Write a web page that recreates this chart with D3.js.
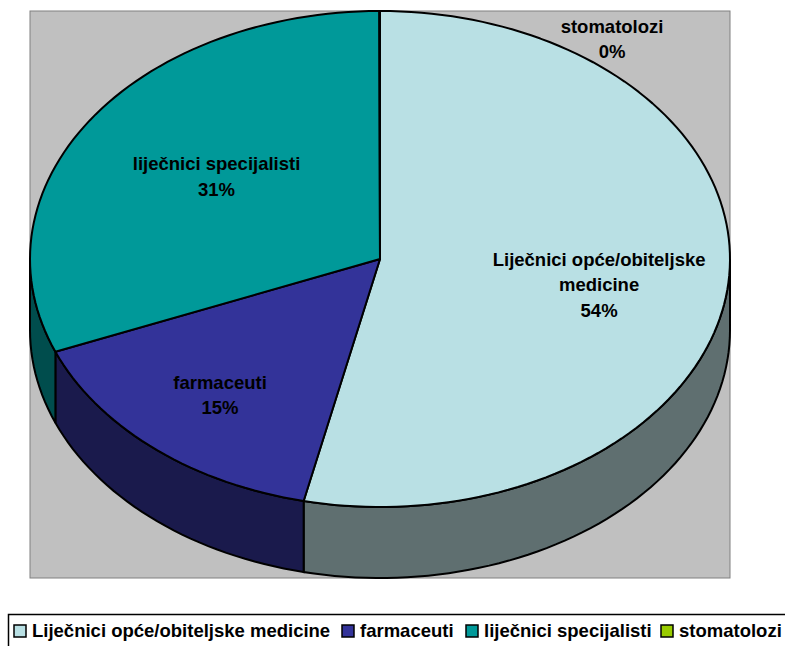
<!DOCTYPE html>
<html>
<head>
<meta charset="utf-8">
<script src="https://cdn.jsdelivr.net/npm/d3@7"></script>
<style>
  html, body { margin: 0; padding: 0; background: #fff; overflow: hidden; }
  text { font-family: "Liberation Sans", Arial, sans-serif; font-weight: bold; font-size: 18.5px; fill: #000; }
</style>
</head>
<body>
<div id="chart"></div>
<script>
var categories = ["Liječnici opće/obiteljske medicine", "farmaceuti", "liječnici specijalisti", "stomatolozi"];
var shares = [53.5, 15.4, 31.07, 0.03];
var topColors = ["#b9e0e4", "#333399", "#009999", "#99cc00"];
var sideColors = ["#5f6f70", "#1a1a4c", "#004d4d", "#4d6600"];
// label lines as Excel wrapped them
var labelLines = [["Liječnici opće/obiteljske", "medicine", "54%"], ["farmaceuti", "15%"], ["liječnici specijalisti", "31%"], ["stomatolozi", "0%"]];
// label centres, in pie units
var labelX = [0.626, -0.457, -0.467, 0.663];
var labelY = [0.105, 0.55, -0.33, -0.885];

var width = 785, height = 646;
var plot = {left: 30, right: 730, top: 11, bottom: 578};
var depth = 71;

var svg = d3.select("#chart").append("svg")
    .attr("width", width).attr("height", height)
    .attr("viewBox", [0, 0, width, height]);

var x = d3.scaleLinear().domain([-1, 1]).range([plot.left, plot.right]);
var y = d3.scaleLinear().domain([-1, 1]).range([plot.top, plot.bottom - depth]);

// plot area
svg.append("rect")
    .attr("x", plot.left).attr("y", plot.top)
    .attr("width", plot.right - plot.left).attr("height", plot.bottom - plot.top)
    .attr("fill", "#c0c0c0").attr("stroke", "#808080");

var slices = d3.pie().sort(null).value(d => d)(shares);

function rimPoints(a0, a1, dy) {
    var n = Math.max(2, Math.ceil((a1 - a0) / 0.03));
    return d3.range(n + 1).map(function(i) {
        var a = a0 + (a1 - a0) * i / n;
        return [x(Math.sin(a)), y(-Math.cos(a)) + dy];
    });
}
var line = d3.line();

// walls: only the front half of the rim shows
var wallG = svg.append("g");
slices.forEach(function(s, i) {
    var a0 = Math.max(s.startAngle, Math.PI / 2);
    var a1 = Math.min(s.endAngle, Math.PI * 1.5);
    if (a1 <= a0) return;
    var pts = rimPoints(a0, a1, 0).concat(rimPoints(a0, a1, depth).reverse());
    wallG.append("path")
        .attr("d", line(pts) + "Z")
        .attr("fill", sideColors[i])
        .attr("stroke", "#000").attr("stroke-width", 2);
});

// top faces
svg.append("g").selectAll("path")
    .data(slices)
    .enter().append("path")
    .attr("d", function(d) {
        return line([[x(0), y(0)]].concat(rimPoints(d.startAngle, d.endAngle, 0))) + "Z";
    })
    .attr("fill", (d, i) => topColors[i])
    .attr("stroke", "#000").attr("stroke-width", 2)
    .attr("stroke-linejoin", "round");

// data labels
var labels = svg.append("g").selectAll("text")
    .data(labelLines)
    .enter().append("text")
    .attr("text-anchor", "middle")
    .attr("transform", (d, i) => "translate(" + x(labelX[i]) + "," + y(labelY[i]) + ")");
labels.selectAll("tspan")
    .data(d => d.map((t, j) => ({t: t, dy: (j - (d.length - 1) / 2) * 25.5 + 6})))
    .enter().append("tspan")
    .attr("x", 0).attr("y", d => d.dy)
    .text(d => d.t);

// legend
var legend = svg.append("g");
legend.append("rect")
    .attr("x", 8.5).attr("y", 614.5)
    .attr("width", 790).attr("height", 40)
    .attr("fill", "#fff").attr("stroke", "#000").attr("stroke-width", 1.5);

var legendX = [14, 342, 466, 661];
var items = legend.selectAll(".legend")
    .data(categories)
    .enter().append("g")
    .attr("class", "legend")
    .attr("transform", (d, i) => "translate(" + legendX[i] + ",631)");
items.append("rect")
    .attr("x", 0).attr("y", -6)
    .attr("width", 12).attr("height", 12)
    .attr("fill", (d, i) => topColors[i])
    .attr("stroke", "#000").attr("stroke-width", 1.5);
items.append("text")
    .attr("x", 18).attr("y", 6)
    .text(d => d);
</script>
</body>
</html>
